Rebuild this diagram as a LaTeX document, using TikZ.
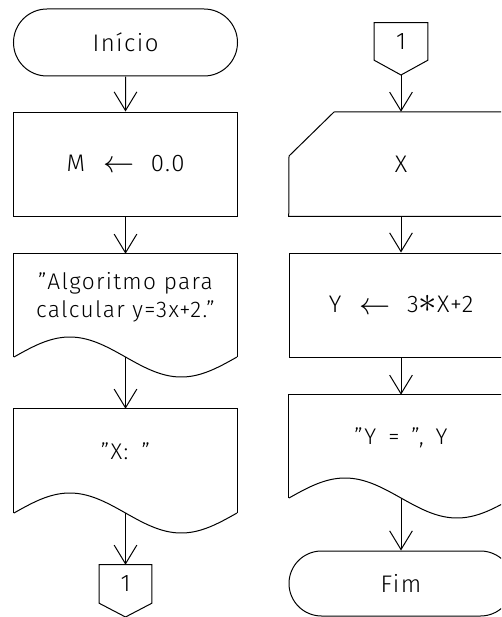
\documentclass[tikz,border=0pt]{standalone}
\usepackage{fontspec}
\setmainfont{Fira Sans Light}[LetterSpace=6]
\usetikzlibrary{arrows.meta,shapes.misc}
\newcommand{\bigleftarr}{\raisebox{-1pt}{\scalebox{1.35}{$\leftarrow$}}}
\begin{document}
\begin{tikzpicture}[x=0.75pt,y=-0.75pt,
  lbl/.style={font=\fontsize{18}{22}\selectfont, inner sep=0pt, align=center},
  doclbl/.style={font=\fontsize{17}{21}\selectfont, inner sep=0pt, align=center},
  shp/.style={line width=0.75pt, line join=miter},
  area/.style={draw=none, inner sep=0pt, minimum width=168pt},
  procbox/.style={area, draw, shp, lbl, minimum height=78pt},
  term/.style={rounded rectangle, draw, shp, lbl, inner sep=0pt, minimum width=168pt},
  flow/.style={line width=0.75pt, -{Straight Barb[length=14pt,width=17pt,line width=0.75pt]}}
]
\path[use as bounding box] (0,0) rectangle (501,617);
\clip (0,0) rectangle (501,617);

% ---------- left column ----------
\node[term, minimum height=50.25pt] (start) at (125.5,42.5) {Início};
\node[procbox] (m) at (125.5,164) {M\hspace{14pt}\bigleftarr\hspace{12pt}0.0};
\node[area, minimum height=77.25pt,
      label={[doclbl, yshift=6.5pt]center:"Algoritmo para\\calcular y=3x+2."}] (d1) at (125.5,305.5) {};
\draw[shp] (d1.south west) -- (d1.north west) -- (d1.north east) -- (d1.south east);
\draw[shp] plot[domain=0:1, samples=50, smooth] ({14+223*\x},{357-20*sin(360*\x)});

\node[area, minimum height=78pt,
      label={[doclbl, yshift=7.5pt]center:"X:\hspace{10pt}"}] (d2) at (125.5,461) {};
\draw[shp] (d2.south west) -- (d2.north west) -- (d2.north east) -- (d2.south east);
\draw[shp] plot[domain=0:1, samples=50, smooth] ({14+223*\x},{513-20*sin(360*\x)});

\node[draw=none, inner sep=0pt, minimum width=39pt, minimum height=28.5pt, lbl] (c1) at (125.5,584) {1};
\coordinate (c1tip) at (125.5,617);
\draw[shp] (c1.south west) -- (c1.north west) -- (c1.north east) -- (c1.south east) -- (c1tip) -- cycle;

\draw[flow] (start) -- (m);
\draw[flow] (m) -- (d1);
\draw[flow] (d1.south) -- (d2.north);
\draw[flow] (d2.south) -- (c1.north);

% ---------- right column ----------
\node[draw=none, inner sep=0pt, minimum width=39.75pt, minimum height=27.75pt, lbl] (c2) at (401,41.5) {1};
\coordinate (c2tip) at (401,75);
\draw[shp] (c2.south west) -- (c2.north west) -- (c2.north east) -- (c2.south east) -- (c2tip) -- cycle;

\node[area, lbl, minimum height=78pt] (inp) at (401,164) {X};
\coordinate (inpa) at (289,156);
\coordinate (inpb) at (334,112);
\draw[shp] (inpa) -- (inpb) -- (inp.north east) -- (inp.south east) -- (inp.south west) -- cycle;

\node[procbox] (y) at (401,305) {Y\hspace{14pt}\bigleftarr\hspace{12pt}3\scalebox{1.6}{$\ast$}X+2};

\node[area, minimum height=77.25pt,
      label={[doclbl, yshift=6.5pt]center:"Y\hspace{9pt}=\hspace{9pt}",\hspace{9pt}Y}] (d3) at (401,446.5) {};
\draw[shp] (d3.south west) -- (d3.north west) -- (d3.north east) -- (d3.south east);
\draw[shp] plot[domain=0:1, samples=50, smooth] ({289+224*\x},{498-20*sin(360*\x)});

\node[term, minimum height=48.75pt] (fim) at (401,583.5) {Fim};

\draw[flow] (c2tip) -- (inp.north);
\draw[flow] (inp) -- (y);
\draw[flow] (y) -- (d3);
\draw[flow] (d3.south) -- (fim.north);
\end{tikzpicture}
\end{document}
